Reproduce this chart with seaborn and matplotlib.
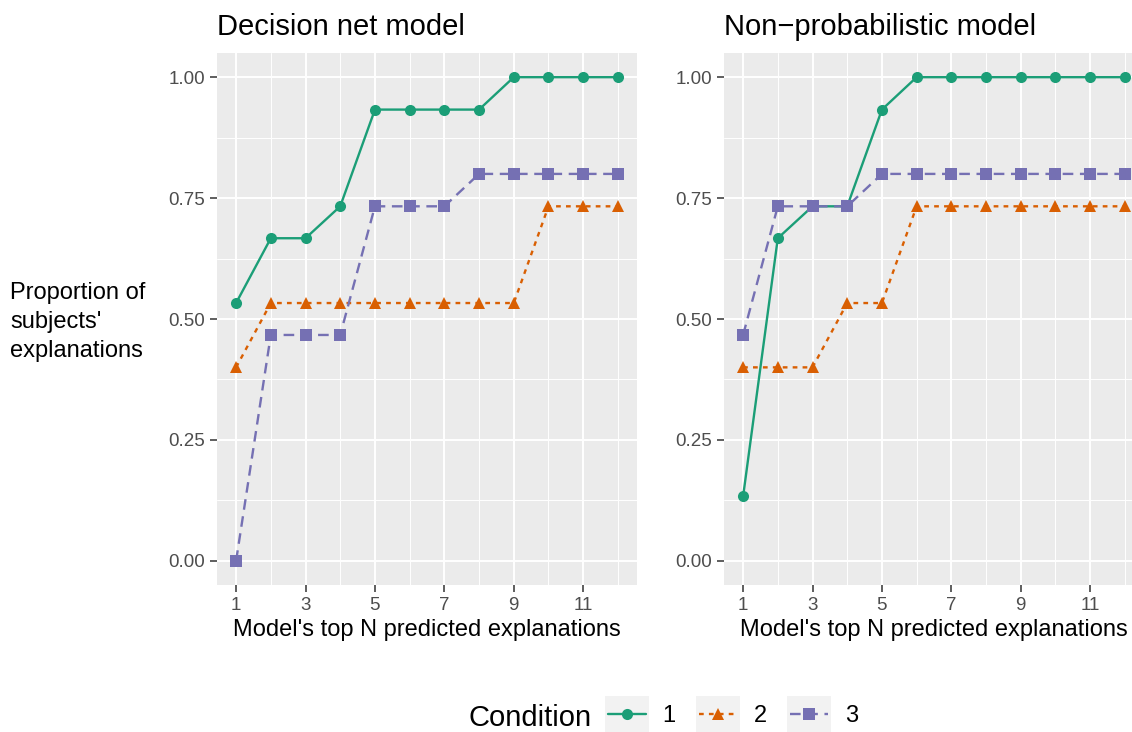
import pandas as pd
import matplotlib
matplotlib.use("Agg")
import matplotlib.pyplot as plt
import seaborn as sns
from matplotlib.patches import Rectangle

# data (proportions, multiples of 1/15)
top_n = list(range(1, 13))
conditions = ["1", "2", "3"]
panels = ["Decision net model", "Non\u2212probabilistic model"]

dn_cond1 = [0.533, 0.667, 0.667, 0.733, 0.933, 0.933, 0.933, 0.933, 1.0, 1.0, 1.0, 1.0]
dn_cond2 = [0.400, 0.533, 0.533, 0.533, 0.533, 0.533, 0.533, 0.533, 0.533, 0.733, 0.733, 0.733]
dn_cond3 = [0.000, 0.467, 0.467, 0.467, 0.733, 0.733, 0.733, 0.800, 0.800, 0.800, 0.800, 0.800]

np_cond1 = [0.133, 0.667, 0.733, 0.733, 0.933, 1.0, 1.0, 1.0, 1.0, 1.0, 1.0, 1.0]
np_cond2 = [0.400, 0.400, 0.400, 0.533, 0.533, 0.733, 0.733, 0.733, 0.733, 0.733, 0.733, 0.733]
np_cond3 = [0.467, 0.733, 0.733, 0.733, 0.800, 0.800, 0.800, 0.800, 0.800, 0.800, 0.800, 0.800]

series = {
    panels[0]: [dn_cond1, dn_cond2, dn_cond3],
    panels[1]: [np_cond1, np_cond2, np_cond3],
}

rows = []
for panel, vals in series.items():
    for cond, ys in zip(conditions, vals):
        for n, y in zip(top_n, ys):
            rows.append({"panel": panel, "cond": cond, "n": n, "prop": y})
df = pd.DataFrame(rows)

palette = {"1": "#1B9E77", "2": "#D95F02", "3": "#7570B3"}

sns.set_theme(style="darkgrid", rc={"axes.facecolor": "#EBEBEB", "grid.color": "white",
                                     "text.color": "black", "axes.labelcolor": "black"})
plt.rcParams["font.family"] = ["Liberation Sans", "DejaVu Sans"]

W, H = 1132, 732
fig = plt.figure(figsize=(W / 100, H / 100), dpi=100)


def px_box(x0, y0, x1, y1):
    return [x0 / W, 1 - y1 / H, (x1 - x0) / W, (y1 - y0) / H]


ax1 = fig.add_axes(px_box(217, 53, 637, 585))
ax2 = fig.add_axes(px_box(724, 53, 1144, 585))

for ax, panel in zip([ax1, ax2], panels):
    sub = df[df["panel"] == panel]
    sns.lineplot(data=sub, x="n", y="prop", hue="cond", style="cond",
                 hue_order=conditions, style_order=conditions, palette=palette,
                 markers=["o", "^", "s"], dashes=["", (2, 2.2), (4.5, 2.8)],
                 linewidth=1.7, markersize=8, markeredgewidth=0,
                 errorbar=None, ax=ax)
    ax.set_xlim(0.45, 12.55)
    ax.set_ylim(-0.05, 1.05)
    ax.set_xticks([1, 3, 5, 7, 9, 11])
    ax.set_xticks(range(2, 13, 2), minor=True)
    ax.set_yticks([0, 0.25, 0.5, 0.75, 1.0])
    ax.set_yticklabels(["0.00", "0.25", "0.50", "0.75", "1.00"])
    ax.set_yticks([0.125, 0.375, 0.625, 0.875], minor=True)
    ax.grid(which="major", color="white", lw=1.4)
    ax.grid(which="minor", color="white", lw=0.7)
    ax.tick_params(which="major", length=5, width=1.1, color="#333333",
                   labelcolor="#4D4D4D", labelsize=13.5, pad=3.5,
                   bottom=True, left=True)
    ax.tick_params(which="minor", length=0)
    for s in ax.spines.values():
        s.set_visible(False)
    ax.set_xlabel("Model's top N predicted explanations", fontsize=17, labelpad=4)
    ax.set_ylabel("")
    ax.set_title(panel, loc="left", fontsize=21, pad=13)

fig.text(10 / W, 1 - 322 / H, "Proportion of\nsubjects'\nexplanations",
         ha="left", va="center", fontsize=17, linespacing=1.4)

handles, labels = ax1.get_legend_handles_labels()
ax1.get_legend().remove()
ax2.get_legend().remove()
leg = fig.legend(handles, labels, loc="center", bbox_to_anchor=(733 / W, 1 - 716 / H),
                 ncol=3, frameon=False, fontsize=17, handlelength=1.6,
                 handletextpad=0.7, columnspacing=1.0)
fig.text(468 / W, 1 - 718 / H, "Condition", fontsize=21, ha="left", va="center")

# grey key backgrounds like ggplot
fig.canvas.draw()
renderer = fig.canvas.get_renderer()
for h in leg.legend_handles:
    bb = h.get_window_extent(renderer)
    cx, cy = (bb.x0 + bb.x1) / 2, (bb.y0 + bb.y1) / 2
    rect = Rectangle(((cx - 22) / W, (cy - 18) / H), 44 / W, 36 / H,
                     transform=fig.transFigure, facecolor="#F2F2F2",
                     edgecolor="none", zorder=1)
    fig.add_artist(rect)

fig.savefig("out.png", dpi=100)
